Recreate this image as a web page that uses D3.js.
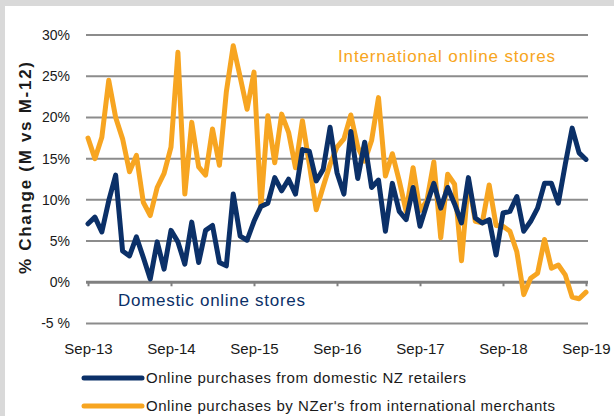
<!DOCTYPE html>
<html>
<head>
<meta charset="utf-8">
<script src="https://cdn.jsdelivr.net/npm/d3@7"></script>
<style>
  body { margin: 0; background: #d9d9d9; }
  svg { display: block; }
  text { font-family: "Liberation Sans", Arial, sans-serif; }
</style>
</head>
<body>
<div id="content"></div>
<script>
// Sep-13 .. Sep-19, monthly
const xLabels = ["Sep-13", "Sep-14", "Sep-15", "Sep-16", "Sep-17", "Sep-18", "Sep-19"];
const yTicks = [-5, 0, 5, 10, 15, 20, 25, 30];
const yLabels = ["-5 %", "0%", "5%", "10%", "15%", "20%", "25%", "30%"];

const domestic = [7.1, 7.9, 6.1, 9.9, 13.0, 3.8, 3.2, 5.5, 3.0, 0.4, 4.9, 1.6,
  6.3, 4.9, 2.2, 7.3, 2.4, 6.3, 6.9, 2.4, 2.0, 10.7, 5.6, 5.1,
  7.4, 9.2, 9.6, 12.7, 11.1, 12.5, 10.7, 16.1, 15.9, 12.3, 13.7, 18.8,
  13.3, 10.7, 18.3, 12.6, 17.0, 11.5, 12.4, 6.2, 12.0, 8.6, 7.6, 11.5,
  6.8, 9.5, 12.0, 9.0, 11.5, 9.5, 7.2, 12.7, 7.8, 7.2, 7.6, 3.3,
  8.4, 8.6, 10.4, 6.2, 7.4, 9.0, 12.0, 12.0, 9.6, 14.3, 18.7, 15.7, 14.9];

const international = [17.5, 15.0, 17.6, 24.5, 20.0, 17.4, 13.4, 15.4, 9.7, 8.1, 11.5, 13.2,
  16.4, 27.9, 10.7, 19.4, 14.0, 13.0, 18.6, 14.2, 23.1, 28.7, 24.9, 21.0,
  25.5, 9.2, 20.2, 14.5, 20.4, 18.2, 13.9, 19.6, 14.3, 8.8, 11.6, 14.3,
  16.4, 17.4, 20.3, 16.4, 14.7, 17.2, 22.4, 12.9, 15.6, 12.3, 8.6, 13.9,
  8.7, 9.9, 14.6, 5.4, 13.1, 11.9, 2.6, 12.3, 7.4, 7.2, 11.8, 6.9,
  6.8, 6.2, 3.7, -1.5, 0.5, 1.1, 5.2, 1.7, 2.1, 0.9, -1.8, -2.0, -1.2];

const seriesNames = ["Online purchases from domestic NZ retailers",
  "Online purchases by NZer's from international merchants"];
const navy = "#0b3068";
const orange = "#f7a521";

const width = 614;
const height = 416;

const svg = d3.select("#content")
  .append("svg")
  .attr("width", width)
  .attr("height", height);

// white panel over grey background
svg.append("rect")
  .attr("x", 5).attr("y", 6)
  .attr("width", width - 5).attr("height", height - 6)
  .attr("fill", "#fff");

const xScale = d3.scaleLinear()
  .domain([0, domestic.length - 1])
  .range([88, 586]);
const yScale = d3.scaleLinear()
  .domain([-5, 30])
  .range([323.5, 35]);

// gridlines
svg.append("g")
  .selectAll("line")
  .data(yTicks.filter(d => d !== 0))
  .enter()
  .append("line")
  .attr("x1", 86).attr("x2", 588)
  .attr("y1", d => yScale(d)).attr("y2", d => yScale(d))
  .attr("stroke", "#8c8c8c")
  .attr("stroke-width", 2);

// y axis labels
const yAxis = d3.axisLeft(yScale)
  .tickValues(yTicks)
  .tickSize(0)
  .tickPadding(16)
  .tickFormat((d, i) => yLabels[i]);
const gy = svg.append("g")
  .attr("transform", "translate(86, 0)")
  .call(yAxis);
gy.select(".domain").remove();
gy.selectAll("text")
  .attr("font-size", 14)
  .attr("fill", "#1a1a1a");

// x axis on the zero line
const xAxis = d3.axisBottom(xScale)
  .tickValues(d3.range(0, domestic.length, 12))
  .tickSize(4)
  .tickFormat((d, i) => xLabels[i]);
const gx = svg.append("g")
  .attr("transform", `translate(0, ${yScale(0)})`)
  .call(xAxis);
gx.select(".domain")
  .attr("d", `M86,0H588`)
  .attr("stroke", "#808080")
  .attr("stroke-width", 3);
gx.selectAll(".tick line")
  .attr("stroke", "#808080")
  .attr("stroke-width", 2);
gx.selectAll("text")
  .attr("y", 61)
  .attr("font-size", 15)
  .attr("fill", "#1a1a1a");

// axis title
svg.append("text")
  .attr("transform", "translate(31, 168) rotate(-90)")
  .attr("text-anchor", "middle")
  .attr("font-size", 17)
  .attr("font-weight", "bold")
  .attr("fill", "#1a1a1a")
  .attr("textLength", 212)
  .attr("lengthAdjust", "spacing")
  .text("% Change  (M vs M-12)");

// lines
const line = d3.line()
  .x((d, i) => xScale(i))
  .y(d => yScale(d));

svg.append("path")
  .datum(international)
  .attr("d", line)
  .attr("fill", "none")
  .attr("stroke", orange)
  .attr("stroke-width", 5)
  .attr("stroke-linejoin", "round")
  .attr("stroke-linecap", "round");

svg.append("path")
  .datum(domestic)
  .attr("d", line)
  .attr("fill", "none")
  .attr("stroke", navy)
  .attr("stroke-width", 5)
  .attr("stroke-linejoin", "round")
  .attr("stroke-linecap", "round");

// in-chart labels
svg.append("text")
  .attr("x", 338).attr("y", 62)
  .attr("font-size", 17)
  .attr("fill", orange)
  .attr("textLength", 217)
  .attr("lengthAdjust", "spacing")
  .text("International  online stores");
svg.append("text")
  .attr("x", 118).attr("y", 306)
  .attr("font-size", 17)
  .attr("fill", navy)
  .attr("textLength", 187)
  .attr("lengthAdjust", "spacing")
  .text("Domestic online stores");

// legend
const legendWidths = [320, 409];
const items = svg.append("g")
  .selectAll("g")
  .data(seriesNames)
  .enter()
  .append("g")
  .attr("transform", (d, i) => `translate(0, ${378 + i * 28})`);
items.append("line")
  .attr("x1", 84).attr("x2", 142)
  .attr("stroke", (d, i) => i === 0 ? navy : orange)
  .attr("stroke-width", 5)
  .attr("stroke-linecap", "round");
items.append("text")
  .attr("x", 146).attr("y", 5)
  .attr("font-size", 15)
  .attr("fill", "#1a1a1a")
  .attr("textLength", (d, i) => legendWidths[i])
  .attr("lengthAdjust", "spacing")
  .text(d => d);
</script>
</body>
</html>
